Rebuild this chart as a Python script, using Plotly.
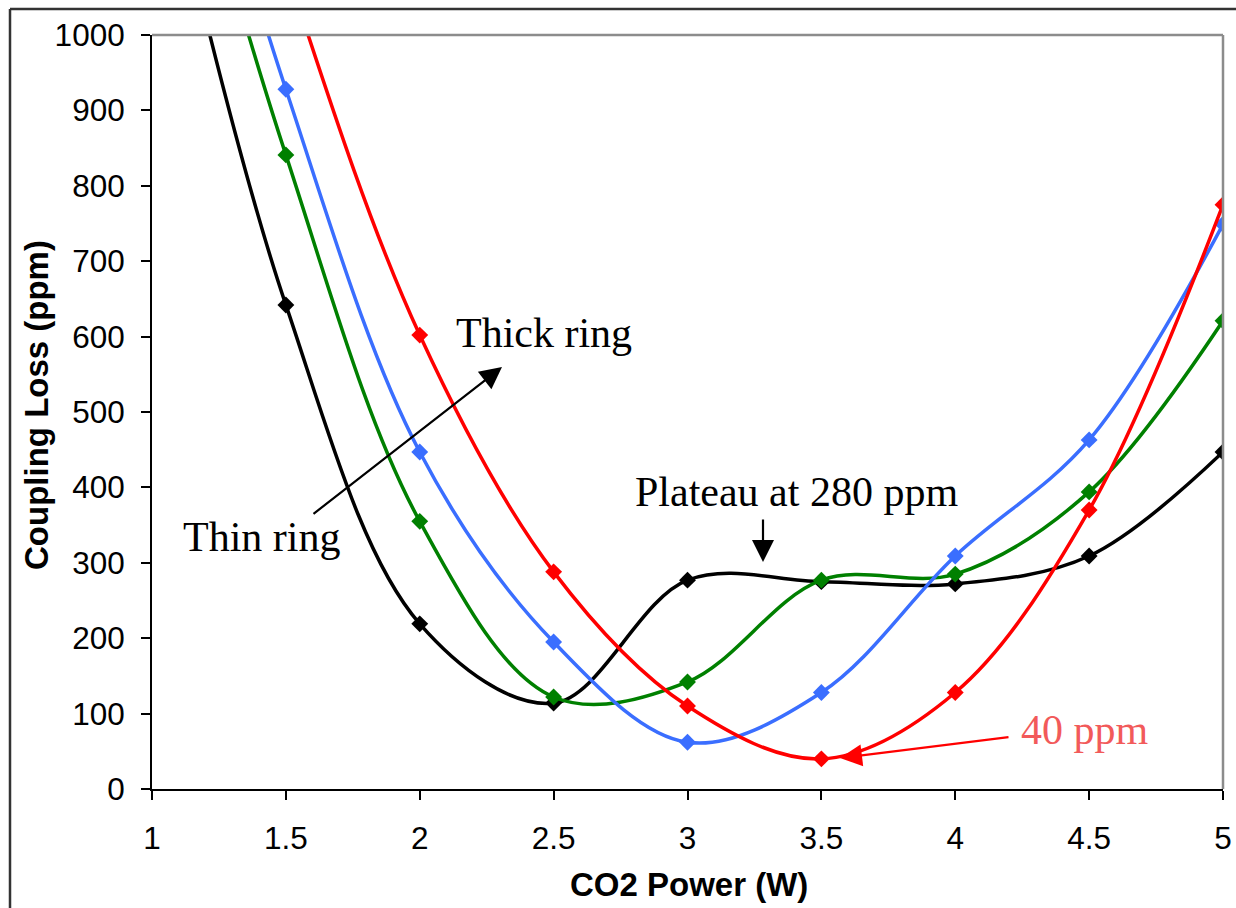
import plotly.graph_objects as go

# ---- data ----
power = [1.0, 1.5, 2.0, 2.5, 3.0, 3.5, 4.0, 4.5, 5.0]
loss_black = [1320, 642, 219, 114, 277, 275, 272, 309, 447]
loss_green = [1450, 841, 355, 122, 142, 277, 285, 394, 621]
loss_blue = [1530, 928, 447, 195, 62, 128, 309, 463, 749]
loss_red = [1700, 1090, 602, 288, 110, 40, 128, 370, 775]

x_ticks = [1, 1.5, 2, 2.5, 3, 3.5, 4, 4.5, 5]
x_tick_text = ["1", "1.5", "2", "2.5", "3", "3.5", "4", "4.5", "5"]
y_ticks = list(range(0, 1001, 100))

series = [
    ("Thin", loss_black, "#000000"),
    ("Medium 1", loss_green, "#008000"),
    ("Medium 2", loss_blue, "#3A6EFF"),
    ("Thick", loss_red, "#FF0000"),
]

fig = go.Figure()
for name, ys, col in series:
    fig.add_trace(go.Scatter(
        x=power, y=ys, name=name, mode="lines+markers",
        line=dict(color=col, width=3.5, shape="spline", smoothing=1.0),
        marker=dict(symbol="diamond", size=13, color=col),
        showlegend=False,
    ))

W, H = 1236, 908
L, R, T, B = 152, 13, 35, 119
pw, ph = W - L - R, H - T - B


def px2paper(px, py):
    return (px - L) / pw, (H - B - py) / ph


def px2data(px, py):
    return 1 + (px - L) / pw * 4, (H - B - py) / ph * 1000


serif = "Liberation Serif, Times New Roman, serif"
sans = "Liberation Sans, Arial, sans-serif"

annotations = []
# text labels
for txt, cx, cy, col in [
    ("Thick ring", 544, 333, "#000000"),
    ("Thin ring", 261, 537, "#000000"),
    ("Plateau at 280 ppm", 796, 492, "#000000"),
    ("40 ppm", 1085, 730, "#F25A5A"),
]:
    xp, yp = px2paper(cx, cy)
    annotations.append(dict(text=txt, x=xp, y=yp, xref="paper", yref="paper",
                            xanchor="center", yanchor="middle", showarrow=False,
                            font=dict(family=serif, size=42, color=col)))

# arrows
for (tx, ty), (hx, hy), col in [
    ((312, 515), (502, 367), "#000000"),
    ((763, 518), (763, 562), "#000000"),
    ((1010, 737), (840, 758), "#FF0000"),
]:
    ax_, ay_ = px2data(tx, ty)
    hx_, hy_ = px2data(hx, hy)
    annotations.append(dict(text="", x=hx_, y=hy_, ax=ax_, ay=ay_,
                            xref="x", yref="y", axref="x", ayref="y",
                            showarrow=True, arrowhead=2, arrowsize=2.0,
                            arrowwidth=2.2, arrowcolor=col, standoff=0,
                            startstandoff=0))

# axis titles
xp, yp = px2paper(689, 884)
annotations.append(dict(text="<b>CO2 Power (W)</b>", x=xp, y=yp, xref="paper", yref="paper",
                        xanchor="center", yanchor="middle", showarrow=False,
                        font=dict(family=sans, size=33, color="#000000")))
xp, yp = px2paper(36, 405)
annotations.append(dict(text="<b>Coupling Loss (ppm)</b>", x=xp, y=yp, xref="paper", yref="paper",
                        xanchor="center", yanchor="middle", showarrow=False, textangle=-90,
                        font=dict(family=sans, size=33, color="#000000")))

shapes = [
    # gray top and right plot border
    dict(type="line", xref="paper", yref="paper", x0=0, y0=1, x1=1, y1=1,
         line=dict(color="#8C8C8C", width=2.5)),
    dict(type="line", xref="paper", yref="paper", x0=1, y0=0, x1=1, y1=1,
         line=dict(color="#8C8C8C", width=2.5)),
]
# outer frame (top and left edges visible)
fx0, fy1 = px2paper(10, 9)
shapes.append(dict(type="line", xref="paper", yref="paper", x0=fx0, y0=fy1, x1=1.2, y1=fy1,
                   line=dict(color="#333333", width=2.5)))
shapes.append(dict(type="line", xref="paper", yref="paper", x0=fx0, y0=-0.3, x1=fx0, y1=fy1,
                   line=dict(color="#333333", width=2.5)))

fig.update_layout(
    width=W, height=H,
    margin=dict(l=L, r=R, t=T, b=B, pad=0, autoexpand=False),
    paper_bgcolor="white", plot_bgcolor="white",
    annotations=annotations, shapes=shapes,
    showlegend=False,
)
fig.update_xaxes(range=[1, 5], tickvals=x_ticks, ticktext=x_tick_text, automargin=False,
                 showgrid=False, zeroline=False, showline=True, linecolor="#000000",
                 linewidth=2, ticks="outside", ticklen=9, tickwidth=1.5, tickcolor="#000000",
                 tickfont=dict(family=sans, size=31.5, color="#000000"),
                 ticklabelstandoff=11)
fig.update_yaxes(range=[0, 1000], tickvals=y_ticks, automargin=False,
                 showgrid=False, zeroline=False, showline=True, linecolor="#000000",
                 linewidth=2, ticks="outside", ticklen=9, tickwidth=1.5, tickcolor="#000000",
                 tickfont=dict(family=sans, size=31.5, color="#000000"),
                 ticklabelstandoff=10)

fig.write_html("out.html")
